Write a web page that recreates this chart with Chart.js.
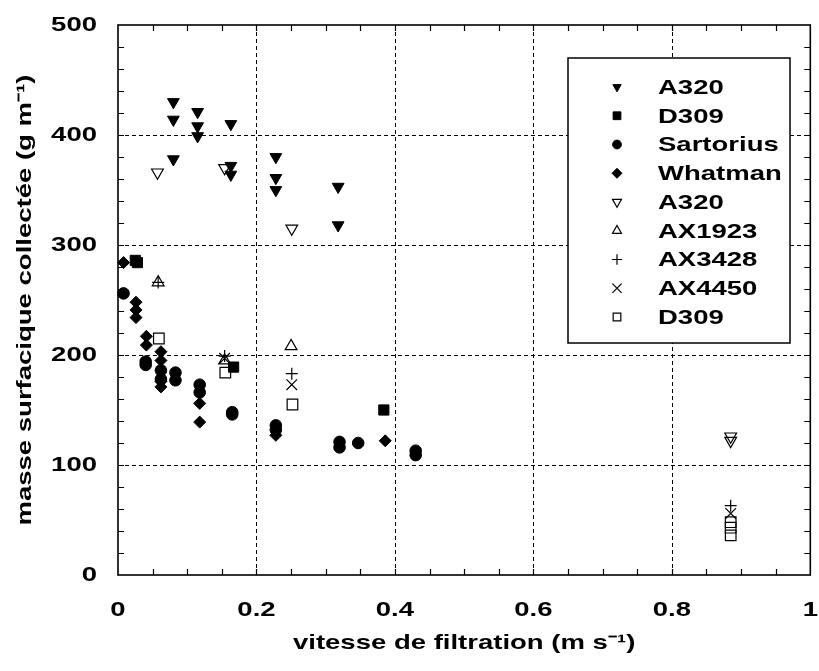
<!DOCTYPE html>
<html>
<head>
<meta charset="utf-8">
<script src="https://cdn.jsdelivr.net/npm/chart.js@4.4.0/dist/chart.umd.min.js"></script>
<style>
  html, body { margin: 0; padding: 0; background: #fff; overflow: hidden; }
</style>
</head>
<body>
<canvas id="myScatterChart" width="819" height="671"></canvas>
<script>
// series labels, in legend order
const seriesLabels = ['A320', 'D309', 'Sartorius', 'Whatman', 'A320', 'AX1923', 'AX3428', 'AX4450', 'D309'];

// filled markers
const a320X = [0.08, 0.08, 0.08, 0.115, 0.115, 0.115, 0.163, 0.163, 0.163, 0.228, 0.228, 0.228, 0.318, 0.318];
const a320Y = [430, 414, 378, 421, 408, 399, 410, 372, 364, 380, 361, 350, 353, 318];
const d309X = [0.025, 0.028, 0.167, 0.384];
const d309Y = [286, 284, 189, 150];
const sartoriusX = [0.008, 0.04, 0.04, 0.062, 0.062, 0.083, 0.083, 0.118, 0.118, 0.165, 0.165, 0.228, 0.228, 0.32, 0.32, 0.347, 0.43, 0.43];
const sartoriusY = [256, 194, 191, 186, 178, 184, 177, 173, 166, 148, 146, 136, 132, 121, 116, 120, 113, 109];
const whatmanX = [0.008, 0.026, 0.026, 0.026, 0.041, 0.041, 0.062, 0.062, 0.062, 0.062, 0.118, 0.118, 0.228, 0.386];
const whatmanY = [284, 248, 241, 234, 217, 209, 203, 195, 176, 171, 156, 139, 127, 122];

// open markers
const a320bX = [0.057, 0.154, 0.251, 0.885, 0.885];
const a320bY = [366, 370, 315, 126, 122];
const ax1923X = [0.058, 0.154, 0.25];
const ax1923Y = [266, 195, 208];
const ax3428X = [0.058, 0.154, 0.251, 0.885];
const ax3428Y = [266, 199, 183, 63];
const ax4450X = [0.154, 0.251, 0.885];
const ax4450Y = [197, 173, 56];
const d309bX = [0.059, 0.155, 0.252, 0.885, 0.885, 0.885];
const d309bY = [215, 184, 155, 48, 43, 36];

const xTitle = 'vitesse de filtration (m s\u207B\u00B9)';
const yTitle = 'masse surfacique collectée (g m\u207B\u00B9)';

const FONT = '"Liberation Sans", Arial, Helvetica, sans-serif';
const TEXT_STRETCH = 1.31;

function pts(xs, ys) {
    return xs.map((v, i) => ({x: v, y: ys[i]}));
}

const canvas = document.getElementById('myScatterChart');
const ctx = canvas.getContext('2d');

// the reference lettering is wide, so stretch every text draw horizontally
const plainFillText = ctx.fillText.bind(ctx);
ctx.fillText = function (text, x, y) {
    this.save();
    this.translate(x, y);
    this.scale(TEXT_STRETCH, 1);
    plainFillText(text, 0, 0);
    this.restore();
};

const filled = {backgroundColor: '#000', borderColor: '#000', borderWidth: 1};
const open = {backgroundColor: 'rgba(0,0,0,0)', borderColor: '#000', borderWidth: 1.2};

const datasets = [
    Object.assign({data: pts(a320X, a320Y), pointStyle: 'triangle', rotation: 180, pointRadius: 6.8}, filled),
    Object.assign({data: pts(d309X, d309Y), pointStyle: 'rect', pointRadius: 7.2}, filled),
    Object.assign({data: pts(sartoriusX, sartoriusY), pointStyle: 'circle', pointRadius: 5.8}, filled),
    Object.assign({data: pts(whatmanX, whatmanY), pointStyle: 'rectRot', pointRadius: 6}, filled),
    Object.assign({data: pts(a320bX, a320bY), pointStyle: 'triangle', rotation: 180, pointRadius: 6.8}, open),
    Object.assign({data: pts(ax1923X, ax1923Y), pointStyle: 'triangle', pointRadius: 6.8}, open),
    Object.assign({data: pts(ax3428X, ax3428Y), pointStyle: 'cross', pointRadius: 6}, open),
    Object.assign({data: pts(ax4450X, ax4450Y), pointStyle: 'crossRot', pointRadius: 7.5}, open),
    Object.assign({data: pts(d309bX, d309bY), pointStyle: 'rect', pointRadius: 7.5}, open)
].map((d, i) => Object.assign(d, {label: seriesLabels[i], clip: false}));

const legendRadius = [4.8, 5.5, 4.4, 5, 5.2, 5.2, 5.2, 6.5, 5.4];

const frame = {
    id: 'frame',
    beforeDatasetsDraw(chart) {
        const {ctx, chartArea: {left, top, right, bottom}, scales: {x, y}} = chart;
        ctx.save();
        ctx.strokeStyle = '#000';
        ctx.lineWidth = 1;
        ctx.setLineDash([4, 3]);
        ctx.beginPath();
        for (let v = 0.2; v < 0.99; v += 0.2) {
            const px = Math.round(x.getPixelForValue(v)) + 0.5;
            ctx.moveTo(px, top);
            ctx.lineTo(px, bottom);
        }
        for (let v = 100; v < 500; v += 100) {
            const py = Math.round(y.getPixelForValue(v)) + 0.5;
            ctx.moveTo(left, py);
            ctx.lineTo(right, py);
        }
        ctx.stroke();
        ctx.restore();
    },
    afterDatasetsDraw(chart) {
        const {ctx, chartArea: {left, top, right, bottom}, scales: {x, y}} = chart;
        ctx.save();
        ctx.strokeStyle = '#000';
        ctx.lineWidth = 1.6;
        ctx.strokeRect(left, top, right - left, bottom - top);

        // inward ticks on all four sides
        ctx.lineWidth = 1.2;
        ctx.beginPath();
        for (let i = 1; i < 20; i++) {
            const px = Math.round(x.getPixelForValue(i * 0.05)) + 0.5;
            ctx.moveTo(px, bottom); ctx.lineTo(px, bottom - 6);
            ctx.moveTo(px, top); ctx.lineTo(px, top + 6);
        }
        for (let i = 1; i < 25; i++) {
            const py = Math.round(y.getPixelForValue(i * 20)) + 0.5;
            ctx.moveTo(left, py); ctx.lineTo(left + 6, py);
            ctx.moveTo(right, py); ctx.lineTo(right - 6, py);
        }
        ctx.stroke();

        // legend box inside the plot
        const bx = 568, by = 58, bw = 222, bh = 285;
        ctx.fillStyle = '#fff';
        ctx.fillRect(bx, by, bw, bh);
        ctx.lineWidth = 1.5;
        ctx.strokeRect(bx, by, bw, bh);

        ctx.font = 'bold 21px ' + FONT;
        ctx.textAlign = 'left';
        ctx.textBaseline = 'middle';
        chart.data.datasets.forEach((ds, i) => {
            const ry = 87 + i * 28.75;
            ctx.fillStyle = ds.backgroundColor;
            ctx.strokeStyle = '#000';
            ctx.lineWidth = ds.borderWidth;
            Chart.helpers.drawPoint(ctx, {
                pointStyle: ds.pointStyle,
                rotation: ds.rotation || 0,
                radius: legendRadius[i],
                borderWidth: ds.borderWidth
            }, 617, ry);
            ctx.fillStyle = '#000';
            ctx.fillText(ds.label, 658, ry + 1);
        });
        ctx.restore();
    }
};

const tickFont = {family: FONT, size: 21, weight: 'bold'};

new Chart(ctx, {
    type: 'scatter',
    data: {datasets: datasets},
    options: {
        responsive: false,
        animation: false,
        events: [],
        layout: {padding: {top: 25, right: 6, left: 0, bottom: 0}},
        plugins: {legend: {display: false}, tooltip: {enabled: false}},
        scales: {
            x: {
                type: 'linear',
                min: 0,
                max: 1,
                grid: {display: false, drawTicks: false},
                border: {display: false},
                ticks: {
                    stepSize: 0.2, color: '#000', font: tickFont, padding: 23, maxRotation: 0,
                    callback: v => String(Number(v.toFixed(1)))
                },
                title: {display: true, text: xTitle, color: '#000', font: tickFont, padding: {top: 0, bottom: 15}},
                afterFit(scale) {
                    scale.height = 96;
                    scale.paddingLeft = 0;
                    scale.paddingRight = 0;
                }
            },
            y: {
                type: 'linear',
                min: 0,
                max: 500,
                grid: {display: false, drawTicks: false},
                border: {display: false},
                ticks: {stepSize: 100, color: '#000', font: tickFont, padding: 21},
                title: {display: true, text: yTitle, color: '#000', font: tickFont, padding: {top: 13, bottom: 0}},
                afterFit(scale) {
                    scale.width = 118;
                    scale.paddingTop = 0;
                    scale.paddingBottom = 0;
                }
            }
        }
    },
    plugins: [frame]
});
</script>
</body>
</html>
